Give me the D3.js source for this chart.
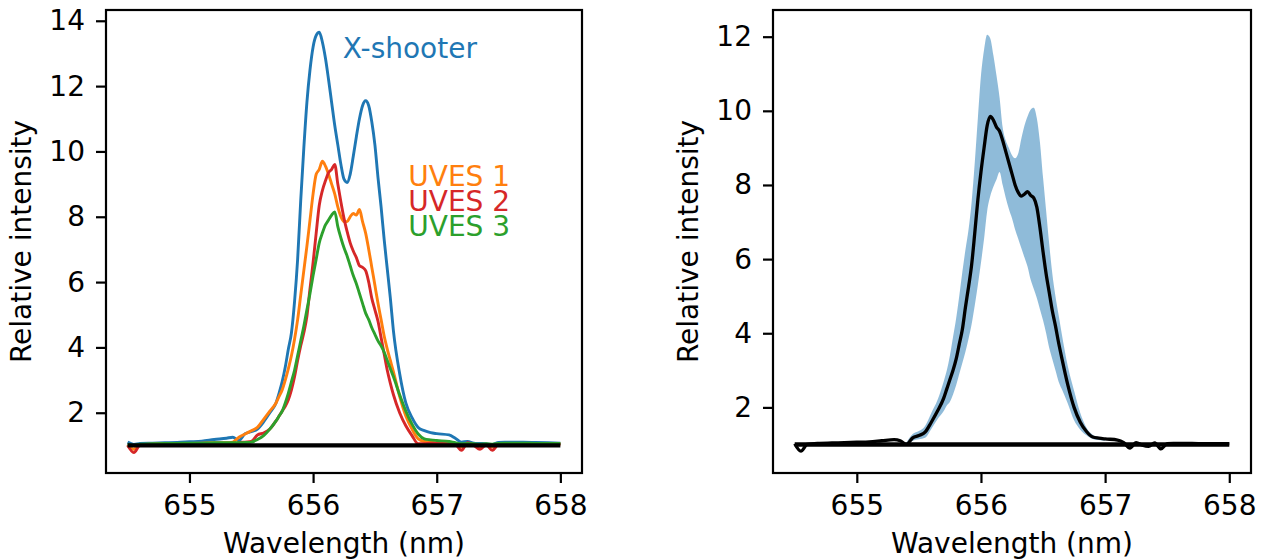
<!DOCTYPE html>
<html><head><meta charset="utf-8">
<script src="https://cdn.jsdelivr.net/npm/d3@7"></script>
<style>
body{margin:0;background:#fff;}
svg text{font-family:"DejaVu Sans",sans-serif;}
</style>
</head><body>
<svg id="c" width="1276" height="560"></svg>
<script>
// ---------------- data ----------------
const wavelength = [654.50,654.55,654.60,654.70,654.80,654.90,655.00,655.10,655.20,655.30,655.35,655.40,655.45,655.50,655.55,655.60,655.65,655.70,655.725,655.75,655.775,655.80,655.825,655.85,655.875,655.90,655.925,655.95,655.975,656.00,656.025,656.05,656.075,656.10,656.125,656.15,656.175,656.20,656.225,656.25,656.275,656.30,656.325,656.35,656.375,656.40,656.425,656.45,656.475,656.50,656.525,656.55,656.575,656.60,656.625,656.65,656.70,656.75,656.80,656.85,656.90,656.95,657.00,657.10,657.15,657.20,657.25,657.30,657.35,657.40,657.45,657.50,657.55,657.60,657.70,657.80,657.90,658.00];

const xshooter = [1.10,1.03,1.06,1.07,1.08,1.09,1.11,1.13,1.18,1.22,1.25,1.15,1.36,1.42,1.50,1.72,2.00,2.30,2.60,2.95,3.40,3.95,4.45,5.40,6.70,8.50,10.10,11.50,12.50,13.20,13.55,13.65,13.35,12.85,12.20,11.50,10.80,10.20,9.60,9.15,9.05,9.30,9.85,10.45,11.00,11.40,11.55,11.40,10.90,10.20,9.20,8.30,7.30,6.40,5.50,4.50,3.20,2.30,1.85,1.55,1.45,1.39,1.36,1.32,1.22,1.10,1.12,1.07,1.06,1.05,1.03,1.09,1.10,1.10,1.10,1.09,1.08,1.07];

const uves1 = [1.02,0.88,1.02,1.04,1.05,1.05,1.06,1.07,1.08,1.08,1.10,1.25,1.35,1.45,1.55,1.80,2.05,2.30,2.50,2.70,3.00,3.35,3.75,4.25,4.85,5.60,6.35,7.10,7.90,8.70,9.30,9.45,9.70,9.55,9.30,9.00,8.70,8.30,8.00,7.85,7.85,8.00,8.10,8.05,8.22,7.85,7.50,7.00,6.45,5.90,5.35,4.85,4.35,3.95,3.60,3.25,2.50,1.90,1.50,1.20,1.12,1.10,1.08,1.06,1.04,0.95,1.06,1.02,0.95,1.04,0.95,1.05,1.06,1.06,1.06,1.05,1.05,1.05];

const uves2 = [1.00,0.78,1.00,1.02,1.03,1.03,1.04,1.04,1.05,1.06,1.02,1.08,1.10,1.12,1.32,1.38,1.50,1.75,1.90,2.05,2.20,2.40,2.70,3.10,3.60,4.05,4.45,4.95,5.80,6.60,7.50,8.35,8.80,9.10,9.35,9.45,9.60,9.00,8.45,7.95,7.55,7.20,6.95,6.75,6.50,6.45,6.35,6.00,5.50,5.15,4.80,4.30,3.80,3.30,2.90,2.55,2.00,1.60,1.30,1.05,1.05,1.07,1.07,1.05,1.03,0.85,1.08,1.00,0.88,1.02,0.85,1.03,1.04,1.04,1.04,1.04,1.03,1.03];

const uves3 = [1.04,1.00,1.04,1.05,1.06,1.06,1.07,1.07,1.08,1.08,1.08,1.08,1.09,1.10,1.18,1.30,1.50,1.75,1.90,2.05,2.30,2.60,2.95,3.30,3.75,4.20,4.65,5.15,5.65,6.20,6.70,7.20,7.50,7.75,7.90,8.05,8.15,7.70,7.35,7.05,6.80,6.50,6.20,5.95,5.65,5.35,5.05,4.85,4.60,4.40,4.20,4.05,3.85,3.60,3.35,3.10,2.55,2.05,1.65,1.35,1.20,1.17,1.15,1.12,1.08,1.05,1.06,1.05,1.04,1.05,1.04,1.06,1.07,1.07,1.07,1.06,1.06,1.06];

const meanProfile = [1.02,0.82,1.00,1.03,1.04,1.05,1.06,1.07,1.10,1.13,1.10,1.00,1.18,1.24,1.33,1.60,1.90,2.25,2.50,2.75,3.00,3.30,3.70,4.10,4.70,5.25,5.85,6.70,7.60,8.35,9.00,9.60,9.85,9.75,9.56,9.45,9.20,8.90,8.60,8.30,8.00,7.80,7.70,7.75,7.82,7.72,7.65,7.40,6.85,6.20,5.60,5.10,4.60,4.20,3.75,3.35,2.60,2.00,1.60,1.35,1.20,1.17,1.15,1.12,1.05,0.90,1.05,0.98,0.95,1.04,0.88,1.02,1.03,1.03,1.03,1.02,1.02,1.02];

const bandWavelength = [655.40,655.45,655.50,655.55,655.60,655.65,655.70,655.725,655.75,655.775,655.80,655.825,655.85,655.875,655.90,655.925,655.95,655.975,656.00,656.025,656.05,656.075,656.10,656.125,656.15,656.175,656.20,656.225,656.25,656.275,656.30,656.325,656.35,656.375,656.40,656.425,656.45,656.475,656.50,656.525,656.55,656.575,656.60,656.625,656.65,656.70,656.75,656.80,656.85,656.90,656.95,657.00];

const bandUpper = [1.05,1.28,1.36,1.50,1.85,2.20,2.70,3.00,3.40,3.90,4.40,5.00,5.65,6.25,6.80,7.55,8.60,9.80,10.95,11.65,12.05,11.95,11.50,10.95,10.35,9.55,9.20,9.00,8.80,8.72,8.85,9.25,9.60,9.85,10.03,10.08,9.80,9.15,8.20,7.30,6.40,5.60,5.00,4.50,4.00,3.10,2.45,1.85,1.45,1.26,1.20,1.17];

const bandLower = [0.98,1.10,1.14,1.18,1.42,1.68,1.90,2.05,2.15,2.35,2.60,2.90,3.20,3.50,3.85,4.25,4.75,5.30,5.90,6.55,7.30,7.70,7.95,8.15,8.35,8.00,7.65,7.35,7.10,6.80,6.55,6.30,6.05,5.80,5.45,5.20,4.95,4.65,4.35,4.00,3.60,3.30,3.00,2.70,2.50,2.10,1.65,1.40,1.25,1.15,1.12,1.10];

const baselineX = [654.5, 658.0];
const baselineY = [1, 1];

const xTicks = [655, 656, 657, 658];
const yTicksLeft = [2, 4, 6, 8, 10, 12, 14];
const yTicksRight = [2, 4, 6, 8, 10, 12];

const seriesNames = ["X-shooter", "UVES 1", "UVES 2", "UVES 3"];
const seriesColors = ["#1f77b4", "#ff7f0e", "#d62728", "#2ca02c"];
const xLabel = "Wavelength (nm)";
const yLabel = "Relative intensity";

// ---------------- drawing ----------------
const svg = d3.select("#c");
const FS = 28;

function panel(box, yDomain, yTicks) {
  const g = svg.append("g");
  const x = d3.scaleLinear().domain([654.325, 658.175]).range([box.x0, box.x1]);
  const y = d3.scaleLinear().domain(yDomain).range([box.y1, box.y0]);

  const xa = g.append("g").attr("transform", `translate(0,${box.y1})`)
    .call(d3.axisBottom(x).tickValues(xTicks).tickFormat(d3.format("d")).tickSize(10).tickPadding(12));
  const ya = g.append("g").attr("transform", `translate(${box.x0},0)`)
    .call(d3.axisLeft(y).tickValues(yTicks).tickFormat(d3.format("d")).tickSize(10).tickPadding(11));
  [xa, ya].forEach(a => {
    a.select(".domain").remove();
    a.selectAll(".tick line").attr("stroke", "#000").attr("stroke-width", 2.2);
    a.selectAll(".tick text").attr("fill", "#000").style("font-size", FS + "px").style("font-family", "DejaVu Sans");
  });

  g.append("text").attr("x", (box.x0 + box.x1) / 2).attr("y", 553)
    .attr("text-anchor", "middle").style("font-size", FS + "px").attr("fill", "#000").text(xLabel);
  g.append("text").attr("transform", `translate(${box.x0 - 75},${(box.y0 + box.y1) / 2}) rotate(-90)`)
    .attr("text-anchor", "middle").style("font-size", FS + "px").attr("fill", "#000").text(yLabel);

  const plot = g.append("g");
  return {g, plot, x, y, box};
}

function frame(p) {
  p.g.append("rect").attr("x", p.box.x0).attr("y", p.box.y0)
    .attr("width", p.box.x1 - p.box.x0).attr("height", p.box.y1 - p.box.y0)
    .attr("fill", "none").attr("stroke", "#000").attr("stroke-width", 2.2);
}

// Left panel
const L = panel({x0: 106, x1: 582, y0: 10, y1: 473}, [0.155, 14.33], yTicksLeft);
const lineL = d3.line().x(d => L.x(d[0])).y(d => L.y(d[1])).curve(d3.curveMonotoneX);
const allSeries = [xshooter, uves1, uves2, uves3];
allSeries.forEach((s, i) => {
  L.plot.append("path").datum(wavelength.map((w, k) => [w, s[k]]))
    .attr("d", lineL).attr("fill", "none").attr("stroke", seriesColors[i])
    .attr("stroke-width", 2.9).attr("stroke-linejoin", "round");
});
L.plot.append("path").datum(baselineX.map((w, k) => [w, baselineY[k]]))
  .attr("d", d3.line().x(d => L.x(d[0])).y(d => L.y(d[1])))
  .attr("stroke", "#000").attr("stroke-width", 4.4).attr("fill", "none");

// annotations
const annX = [656.24, 656.77, 656.77, 656.77];
const annY = [12.86, 8.94, 8.18, 7.41];
seriesNames.forEach((n, i) => {
  L.plot.append("text").attr("x", L.x(annX[i])).attr("y", L.y(annY[i]))
    .style("font-size", FS + "px").attr("fill", seriesColors[i]).text(n);
});
frame(L);

// Right panel
const R = panel({x0: 773, x1: 1251, y0: 10, y1: 473}, [0.23, 12.72], yTicksRight);
const area = d3.area().x(d => R.x(d[0])).y0(d => R.y(d[1])).y1(d => R.y(d[2])).curve(d3.curveMonotoneX);
R.plot.append("path").datum(bandWavelength.map((w, k) => [w, bandLower[k], bandUpper[k]]))
  .attr("d", area).attr("fill", "#1f77b4").attr("fill-opacity", 0.5);
R.plot.append("path").datum(baselineX.map((w, k) => [w, baselineY[k]]))
  .attr("d", d3.line().x(d => R.x(d[0])).y(d => R.y(d[1])))
  .attr("stroke", "#000").attr("stroke-width", 4.4).attr("fill", "none");
const lineR = d3.line().x(d => R.x(d[0])).y(d => R.y(d[1])).curve(d3.curveMonotoneX);
R.plot.append("path").datum(wavelength.map((w, k) => [w, meanProfile[k]]))
  .attr("d", lineR).attr("fill", "none").attr("stroke", "#000")
  .attr("stroke-width", 3.3).attr("stroke-linejoin", "round");
frame(R);
</script>
</body></html>
